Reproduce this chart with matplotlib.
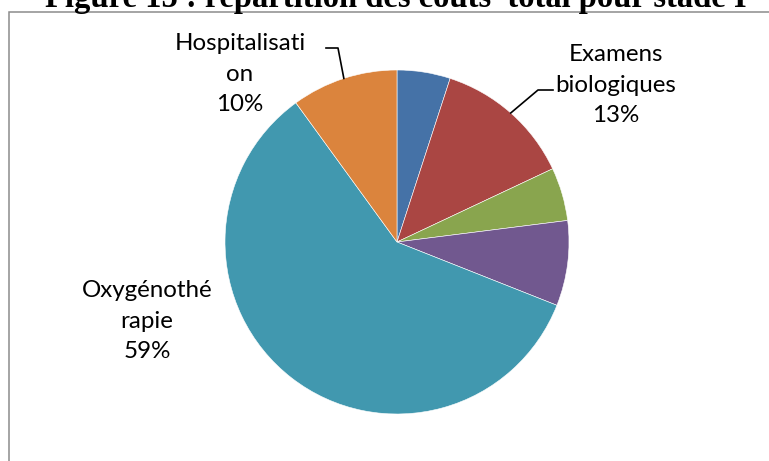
import numpy as np
import matplotlib
matplotlib.use("Agg")
import matplotlib.pyplot as plt
from matplotlib.patches import Rectangle
from matplotlib.lines import Line2D

# ---- data ----
categories = ["Consultation", "Examens\nbiologiques", "Imagerie", "Médicaments",
              "Oxygénothé\nrapie", "Hospitalisati\non"]
values = [5, 13, 5, 8, 59, 10]
pct_labels = ["5%", "13%", "5%", "8%", "59%", "10%"]
shown = [False, True, False, False, True, True]
colors = ["#4572A7", "#AA4643", "#89A54E", "#71588F", "#4198AF", "#DB843D"]
title = "Figure 15 : répartition des coûts  total pour stade I"

W, H = 769, 461
fig = plt.figure(figsize=(W / 100, H / 100), dpi=100)

# frame of the chart area
fig.add_artist(Rectangle((8.5 / W, -0.1), 2, (H - 12.5) / H + 0.1, transform=fig.transFigure,
                         fill=False, edgecolor="#8C8C8C", linewidth=1.1))

# title (partly cut at top)
fig.text(396 / W, 1 - 7.5 / H, title, ha="center", va="baseline",
         family="Liberation Serif", weight="bold", fontsize=23.5)

# pie axes: center (397,242) px, radius 172 px
cx, cy, r = 397, 242, 172
ax = fig.add_axes([(cx - r) / W, (H - cy - r) / H, 2 * r / W, 2 * r / H])
wedges, _ = ax.pie(values, colors=colors, startangle=90, counterclock=False,
                   wedgeprops=dict(edgecolor="white", linewidth=0.4))
ax.set_xlim(-1, 1)
ax.set_ylim(-1, 1)
ax.axis("off")

font = dict(family=["Lato", "DejaVu Sans"], fontsize=17.4, color="black")

# label layout (pixel positions of label centers) and leader elbows
label_pos = {1: (616, 85), 4: (147, 321), 5: (240, 74)}
elbows = {1: [(553, 90), (538, 90)], 5: [(326, 48), (338, 48)]}


def px2data(x, y):
    return ((x - cx) / r, (cy - y) / r)


for i, (cat, p) in enumerate(zip(categories, pct_labels)):
    if not shown[i]:
        continue
    lx, ly = label_pos[i]
    tx, ty = px2data(lx, ly)
    ax.text(tx, ty, cat + "\n" + p, ha="center", va="center",
            linespacing=1.57, clip_on=False, **font)
    if i in elbows:
        w = wedges[i]
        mid = np.deg2rad((w.theta1 + w.theta2) / 2)
        ex, ey = np.cos(mid), np.sin(mid)
        pts = [px2data(*e) for e in elbows[i]] + [(ex, ey)]
        ax.add_line(Line2D([q[0] for q in pts], [q[1] for q in pts],
                           color="black", linewidth=1.2, clip_on=False))

fig.savefig("out.png", dpi=100)
